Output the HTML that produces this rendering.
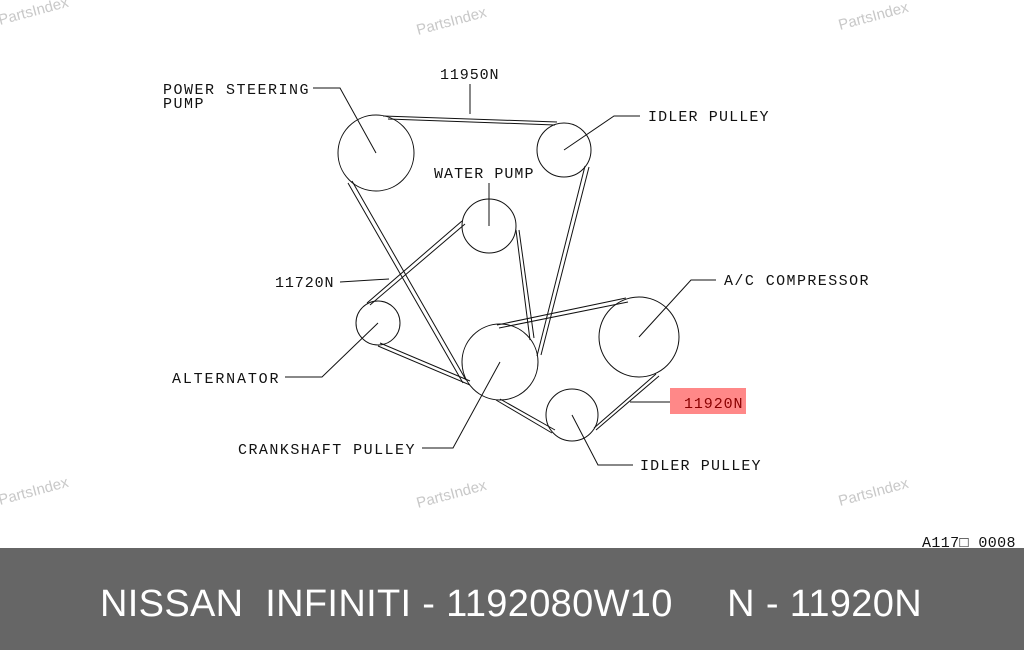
<!DOCTYPE html>
<html><head><meta charset="utf-8"><style>
body{margin:0;width:1024px;height:650px;overflow:hidden;background:#fff;font-family:"Liberation Sans",sans-serif}
svg{position:absolute;left:0;top:0}
.l{font-family:"Liberation Mono",monospace;font-size:15px;letter-spacing:1.5px;fill:#111}
.w{font-family:"Liberation Sans",sans-serif;font-size:15px;fill:#c8c8c8}
#foot{position:absolute;left:0;top:548px;width:1024px;height:102px;background:#666;color:#fff;font-size:38px;letter-spacing:0.33px;line-height:112px;white-space:pre;text-indent:100px}
</style></head><body>
<svg width="1024" height="650" viewBox="0 0 1024 650">
<g class="w">
<text x="0" y="25" transform="rotate(-15 0 25)">PartsIndex</text>
<text x="418" y="35" transform="rotate(-15 418 35)">PartsIndex</text>
<text x="840" y="30" transform="rotate(-15 840 30)">PartsIndex</text>
<text x="0" y="505" transform="rotate(-15 0 505)">PartsIndex</text>
<text x="418" y="508" transform="rotate(-15 418 508)">PartsIndex</text>
<text x="840" y="506" transform="rotate(-15 840 506)">PartsIndex</text>
</g>
<g fill="none" stroke="#111" stroke-width="1">
<circle cx="376" cy="153" r="38"/>
<circle cx="564" cy="150" r="27"/>
<circle cx="489" cy="226" r="27"/>
<circle cx="378" cy="323" r="22"/>
<circle cx="500" cy="362" r="38"/>
<circle cx="639" cy="337" r="40"/>
<circle cx="572" cy="415" r="26"/>
<path d="M383 116 L557 122 M388 119 L555 125"/>
<path d="M348 183 L463 383 M352 181 L466 380"/>
<path d="M585 166 L537 356 M589 167 L541 355"/>
<path d="M462 221 L367 303 M465 224 L370 305"/>
<path d="M516 230 L530 340 M519 230 L534 338"/>
<path d="M497 325 L626 298 M499 328 L628 302"/>
<path d="M378 346 L470 385 M380 343 L470 381"/>
<path d="M496 400 L552 433 M500 399 L555 430"/>
<path d="M656 374 L594 428 M659 376 L596 430"/>
<path d="M376 153 L340 88 L313 88"/>
<path d="M470 84 L470 114"/>
<path d="M564 150 L614 116 L640 116"/>
<path d="M489 226 L489 183"/>
<path d="M389 279 L340 282"/>
<path d="M378 323 L322 377 L285 377"/>
<path d="M639 337 L691 280 L716 280"/>
<path d="M630 402 L670 402"/>
<path d="M500 362 L453 448 L422 448"/>
<path d="M572 415 L598 465 L633 465"/>
</g>
<rect x="670" y="388" width="76" height="26" fill="#f88"/>
<g class="l">
<text x="163" y="94" textLength="147">POWER STEERING</text>
<text x="163" y="108">PUMP</text>
<text x="440" y="79" textLength="60">11950N</text>
<text x="648" y="121" textLength="122">IDLER PULLEY</text>
<text x="434" y="178" textLength="101">WATER PUMP</text>
<text x="275" y="287" textLength="60">11720N</text>
<text x="172" y="383" textLength="108">ALTERNATOR</text>
<text x="724" y="285" textLength="146">A/C COMPRESSOR</text>
<text x="684" y="408" fill="#8a0000" textLength="60">11920N</text>
<text x="238" y="454" textLength="178">CRANKSHAFT PULLEY</text>
<text x="640" y="470" textLength="122">IDLER PULLEY</text>
<text x="922" y="547" textLength="95">A117□ 0008</text>
</g>
</svg>
<div id="foot">NISSAN  INFINITI - 1192080W10     N - 11920N</div>
</body></html>
